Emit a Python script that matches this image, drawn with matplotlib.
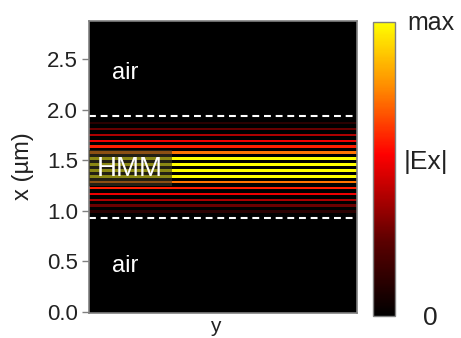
import numpy as np
import matplotlib
matplotlib.use("Agg")
import matplotlib.pyplot as plt
from matplotlib.colors import LinearSegmentedColormap
from matplotlib.patches import Rectangle

plt.rcParams['font.family'] = ['Liberation Sans', 'DejaVu Sans']

# Layer centres (µm) and normalised |Ex| in each metal layer
layer_centers = [0.993, 1.051, 1.110, 1.168, 1.227, 1.285, 1.343, 1.402,
                 1.460, 1.519, 1.577, 1.635, 1.694, 1.752, 1.810, 1.869]
layer_values = [0.12, 0.28, 0.40, 0.52, 0.60, 0.74, 1.00, 1.00,
                1.00, 1.00, 0.74, 0.60, 0.52, 0.40, 0.28, 0.12]
layer_thickness = 0.026
interface_lines = [0.93, 1.94]
ytick_values = [0.0, 0.5, 1.0, 1.5, 2.0, 2.5]
ytick_labels = ["0.0", "0.5", "1.0", "1.5", "2.0", "2.5"]
x_limits = (0.0, 2.88)

W, H = 461, 338

cmap = LinearSegmentedColormap.from_list(
    "bry", [(0.0, "#000000"), (0.25, "#5a0000"), (0.55, "#ff0000"),
            (0.78, "#ff8c00"), (1.0, "#ffff00")])

# Build cell edges along x and field values per cell
edges = [x_limits[0]]
vals = []
for c, v in zip(layer_centers, layer_values):
    lo, hi = c - layer_thickness / 2, c + layer_thickness / 2
    edges.append(lo); vals.append(0.0)
    edges.append(hi); vals.append(v)
edges.append(x_limits[1]); vals.append(0.0)
edges = np.array(edges)
field = np.array(vals)[:, None]

fig = plt.figure(figsize=(W / 100, H / 100), dpi=100)
ax = fig.add_axes([89 / W, 1 - 313 / H, 268 / W, 292 / H])
cax = fig.add_axes([373 / W, 1 - 316 / H, 22.4 / W, 294.3 / H])

mesh = ax.pcolormesh([0, 1], edges, field, cmap=cmap, vmin=0, vmax=1,
                     shading='flat', rasterized=True)
ax.set_facecolor('black')
ax.set_xlim(0, 1)
ax.set_ylim(-0.01, x_limits[1])

for yl in interface_lines:
    ax.axhline(yl, color='white', lw=1.5, dashes=(3.3, 2.3))

ax.set_yticks(ytick_values)
ax.set_yticklabels(ytick_labels, fontsize=16, color='#222222')
ax.set_xticks([])
ax.tick_params(axis='y', direction='out', length=5, color='#808080',
               width=1, pad=3)
for s in ax.spines.values():
    s.set_color('#808080')
    s.set_linewidth(1.2)

fig.text(23 / W, 1 - 166 / H, "x (µm)", fontsize=17, color='#222222',
         rotation=90, ha='center', va='center')
fig.text(215 / W, 1 - 326 / H, "y", fontsize=15, color='#222222',
         ha='center', va='center')

ax.text(0.085, 2.37, "air", color='white', fontsize=17, va='center', ha='left')
ax.text(0.085, 0.46, "air", color='white', fontsize=17, va='center', ha='left')

# translucent label box
ax.add_patch(Rectangle((0.0, 1.25), 83 / 268, 0.35, transform=ax.get_yaxis_transform(),
                       facecolor='#3c3720', edgecolor='none', alpha=0.6, zorder=3))
ax.text(0.028, 1.42, "HMM", color='white', fontsize=20, va='center', ha='left',
        zorder=4)

cb = fig.colorbar(mesh, cax=cax)
cb.set_ticks([])
cb.outline.set_edgecolor('#808080')
cb.outline.set_linewidth(1.0)
fig.text(407 / W, 1 - 23 / H, "max", fontsize=18, color='#222222',
         ha='left', va='center')
fig.text(404 / W, 1 - 162 / H, "|Ex|", fontsize=19, color='#222222',
         ha='left', va='center')
fig.text(430 / W, 1 - 318 / H, "0", fontsize=19, color='#222222',
         ha='center', va='center')

fig.savefig("out.png", dpi=100)
